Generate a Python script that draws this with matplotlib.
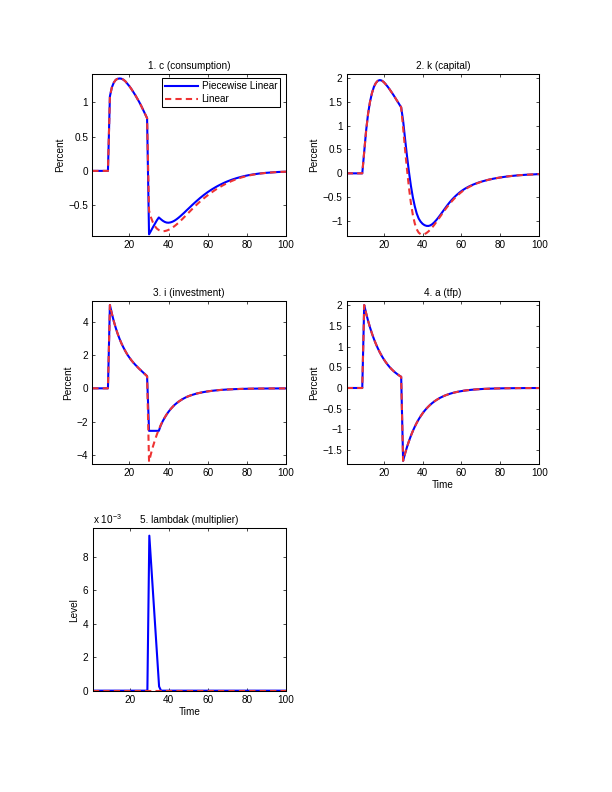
import matplotlib
matplotlib.use('Agg')
import matplotlib.pyplot as plt
from matplotlib.ticker import FuncFormatter

plt.rcParams['font.family'] = ['Liberation Sans', 'DejaVu Sans']
plt.rcParams['mathtext.fontset'] = 'custom'
plt.rcParams['mathtext.rm'] = 'Liberation Sans'
plt.rcParams['mathtext.it'] = 'Liberation Sans:italic'
plt.rcParams['axes.unicode_minus'] = True

# ---------------- data ----------------
periods = list(range(1, 101))

c_piecewise = [0.0] * 9 + [
    1.09, 1.22, 1.29, 1.33, 1.345, 1.35, 1.345, 1.33, 1.305, 1.27,
    1.235, 1.195, 1.15, 1.105, 1.055, 1.005, 0.95, 0.89, 0.83, 0.77,
    -0.927, -0.875, -0.822, -0.772, -0.722, -0.68, -0.705, -0.728, -0.745, -0.755,
    -0.757, -0.752, -0.742, -0.727, -0.708, -0.686, -0.662, -0.636, -0.61, -0.582,
    -0.555, -0.528, -0.50, -0.474, -0.448, -0.423, -0.398, -0.375, -0.352, -0.331,
    -0.31, -0.291, -0.272, -0.255, -0.238, -0.222, -0.207, -0.193, -0.179, -0.166,
    -0.154, -0.143, -0.132, -0.122, -0.113, -0.104, -0.096, -0.088, -0.081, -0.074,
    -0.068, -0.062, -0.057, -0.052, -0.048, -0.044, -0.04, -0.037, -0.034, -0.031,
    -0.028, -0.026, -0.024, -0.022, -0.02, -0.018, -0.016, -0.015, -0.014, -0.013,
    -0.012]
c_linear = [0.0] * 9 + [
    1.09, 1.22, 1.29, 1.33, 1.345, 1.35, 1.345, 1.33, 1.305, 1.27,
    1.235, 1.195, 1.15, 1.105, 1.055, 1.005, 0.95, 0.89, 0.83, 0.77,
    -0.58, -0.68, -0.755, -0.808, -0.843, -0.864, -0.876, -0.881, -0.879, -0.872,
    -0.861, -0.846, -0.828, -0.807, -0.784, -0.759, -0.732, -0.704, -0.675, -0.646,
    -0.617, -0.588, -0.559, -0.531, -0.503, -0.476, -0.45, -0.425, -0.401, -0.378,
    -0.356, -0.335, -0.314, -0.294, -0.275, -0.257, -0.24, -0.223, -0.207, -0.192,
    -0.178, -0.164, -0.151, -0.139, -0.128, -0.117, -0.107, -0.098, -0.09, -0.082,
    -0.075, -0.068, -0.062, -0.056, -0.051, -0.046, -0.042, -0.038, -0.035, -0.032,
    -0.029, -0.026, -0.024, -0.022, -0.02, -0.018, -0.016, -0.015, -0.014, -0.013,
    -0.012]

k_piecewise = [0.0] * 9 + [
    0.45, 0.9, 1.25, 1.5, 1.68, 1.81, 1.89, 1.935, 1.95, 1.94,
    1.91, 1.865, 1.815, 1.76, 1.70, 1.64, 1.575, 1.51, 1.445, 1.38,
    1.1, 0.72, 0.36, 0.03, -0.26, -0.5, -0.69, -0.84, -0.945, -1.01,
    -1.055, -1.083, -1.098, -1.10, -1.088, -1.062, -1.025, -0.98, -0.93, -0.876,
    -0.82, -0.763, -0.707, -0.653, -0.602, -0.555, -0.512, -0.472, -0.435, -0.401,
    -0.37, -0.342, -0.316, -0.293, -0.272, -0.253, -0.235, -0.219, -0.204, -0.19,
    -0.177, -0.165, -0.154, -0.143, -0.133, -0.124, -0.115, -0.107, -0.1, -0.093,
    -0.086, -0.08, -0.074, -0.068, -0.063, -0.058, -0.054, -0.05, -0.046, -0.042,
    -0.039, -0.036, -0.033, -0.03, -0.028, -0.026, -0.024, -0.022, -0.02, -0.018,
    -0.016]
k_linear = [0.0] * 9 + [
    0.45, 0.9, 1.25, 1.5, 1.68, 1.81, 1.89, 1.935, 1.95, 1.94,
    1.91, 1.865, 1.815, 1.76, 1.70, 1.64, 1.575, 1.51, 1.445, 1.38,
    0.95, 0.5, 0.08, -0.3, -0.62, -0.87, -1.05, -1.17, -1.24, -1.272,
    -1.28, -1.27, -1.248, -1.215, -1.175, -1.128, -1.077, -1.022, -0.965, -0.907,
    -0.849, -0.792, -0.737, -0.684, -0.634, -0.586, -0.541, -0.499, -0.46, -0.424,
    -0.39, -0.36, -0.332, -0.306, -0.283, -0.262, -0.242, -0.224, -0.208, -0.193,
    -0.179, -0.166, -0.154, -0.143, -0.133, -0.124, -0.115, -0.107, -0.1, -0.093,
    -0.086, -0.08, -0.074, -0.068, -0.063, -0.058, -0.054, -0.05, -0.046, -0.042,
    -0.039, -0.036, -0.033, -0.03, -0.028, -0.026, -0.024, -0.022, -0.02, -0.018,
    -0.016]

i_piecewise = [0.0] * 9 + [
    5.00, 4.48, 4.02, 3.62, 3.26, 2.95, 2.67, 2.43, 2.21, 2.01,
    1.84, 1.68, 1.54, 1.41, 1.29, 1.17, 1.06, 0.95, 0.84, 0.73,
    -2.55, -2.55, -2.55, -2.55, -2.55, -2.55, -2.22, -1.97, -1.76, -1.57,
    -1.40, -1.25, -1.12, -1.00, -0.90, -0.81, -0.73, -0.655, -0.59, -0.53,
    -0.48, -0.435, -0.395, -0.36, -0.325, -0.295, -0.27, -0.245, -0.222, -0.202,
    -0.184, -0.167, -0.152, -0.138, -0.125, -0.114, -0.103, -0.094, -0.085, -0.077,
    -0.07, -0.064, -0.058, -0.052, -0.047, -0.043, -0.039, -0.035, -0.032, -0.029,
    -0.026, -0.024, -0.021, -0.019, -0.017, -0.016, -0.014, -0.013, -0.012, -0.011,
    -0.01, -0.009, -0.008, -0.007, -0.006, -0.006, -0.005, -0.005, -0.004, -0.004,
    -0.004]
i_linear = [0.0] * 9 + [
    5.00, 4.48, 4.02, 3.62, 3.26, 2.95, 2.67, 2.43, 2.21, 2.01,
    1.84, 1.68, 1.54, 1.41, 1.29, 1.17, 1.06, 0.95, 0.84, 0.73,
    -4.40, -3.92, -3.49, -3.11, -2.77, -2.47, -2.20, -1.96, -1.75, -1.56,
    -1.40, -1.25, -1.12, -1.00, -0.90, -0.81, -0.73, -0.655, -0.59, -0.53,
    -0.48, -0.435, -0.395, -0.36, -0.325, -0.295, -0.27, -0.245, -0.222, -0.202,
    -0.184, -0.167, -0.152, -0.138, -0.125, -0.114, -0.103, -0.094, -0.085, -0.077,
    -0.07, -0.064, -0.058, -0.052, -0.047, -0.043, -0.039, -0.035, -0.032, -0.029,
    -0.026, -0.024, -0.021, -0.019, -0.017, -0.016, -0.014, -0.013, -0.012, -0.011,
    -0.01, -0.009, -0.008, -0.007, -0.006, -0.006, -0.005, -0.005, -0.004, -0.004,
    -0.004]

a_values = [0.0] * 9 + [
    2.000, 1.800, 1.620, 1.458, 1.312, 1.181, 1.063, 0.957, 0.861, 0.775,
    0.697, 0.628, 0.565, 0.508, 0.458, 0.412, 0.371, 0.334, 0.300, 0.270,
    -1.757, -1.581, -1.423, -1.281, -1.153, -1.037, -0.934, -0.840, -0.756, -0.681,
    -0.613, -0.551, -0.496, -0.447, -0.402, -0.362, -0.326, -0.293, -0.264, -0.237,
    -0.214, -0.192, -0.173, -0.156, -0.140, -0.126, -0.114, -0.102, -0.092, -0.083,
    -0.075, -0.067, -0.060, -0.054, -0.049, -0.044, -0.040, -0.036, -0.032, -0.029,
    -0.026, -0.023, -0.021, -0.019, -0.017, -0.015, -0.014, -0.012, -0.011, -0.010,
    -0.009, -0.008, -0.007, -0.006, -0.006, -0.005, -0.005, -0.004, -0.004, -0.003,
    -0.003, -0.003, -0.002, -0.002, -0.002, -0.002, -0.001, -0.001, -0.001, -0.001,
    -0.001]
a_piecewise = a_values
a_linear = a_values

lam_piecewise = [0.0] * 29 + [9.25e-3, 7.45e-3, 5.65e-3, 3.85e-3, 2.05e-3, 0.25e-3] + [0.0] * 65
lam_linear = [0.0] * 100

titles = ['1. c (consumption)', '2. k (capital)', '3. i (investment)',
          '4. a (tfp)', '5. lambdak (multiplier)']
series_names = ['Piecewise Linear', 'Linear']
x_ticks = [20, 40, 60, 80, 100]

# ---------------- figure ----------------
W, H = 612, 792
fig = plt.figure(figsize=(W / 100, H / 100), dpi=100)


def add_axes(l, t, r, b):
    return fig.add_axes([l / W, 1 - b / H, (r - l) / W, (b - t) / H])


FS = 7.2
BLUE = '#0000ff'
RED = '#ee3333'


def fmt(v, pos):
    s = '%g' % round(v, 6)
    return s.replace('-', '\u2212')


def fmt_e3(v, pos):
    s = '%g' % round(v * 1e3, 6)
    return s.replace('-', '\u2212')


panels = [
    (add_axes(92.3, 74, 286, 236), c_piecewise, c_linear, (-0.951, 1.415), [-0.5, 0, 0.5, 1], 'Percent', None),
    (add_axes(346.7, 74, 539.3, 236), k_piecewise, k_linear, (-1.31, 2.077), [-1, -0.5, 0, 0.5, 1, 1.5, 2], 'Percent', None),
    (add_axes(92.3, 301, 286, 464), i_piecewise, i_linear, (-4.54, 5.24), [-4, -2, 0, 2, 4], 'Percent', None),
    (add_axes(346.7, 301, 539.3, 464), a_piecewise, a_linear, (-1.833, 2.098), [-1.5, -1, -0.5, 0, 0.5, 1, 1.5, 2], 'Percent', 'Time'),
    (add_axes(92.7, 528.3, 286, 691), lam_piecewise, lam_linear, (-0.02e-3, 9.69e-3), [0, 2e-3, 4e-3, 6e-3, 8e-3], 'Level', 'Time'),
]

for idx, (ax, pw, lin, ylim, yt, ylab, xlab) in enumerate(panels):
    l1, = ax.plot(periods, pw, color=BLUE, lw=1.5, label=series_names[0])
    l2, = ax.plot(periods, lin, color=RED, lw=1.5, ls=(0, (3, 2)), label=series_names[1])
    ax.set_xlim(1, 100)
    ax.set_ylim(*ylim)
    ax.set_xticks(x_ticks)
    ax.set_yticks(yt)
    ax.xaxis.set_major_formatter(FuncFormatter(fmt))
    if idx == 4:
        ax.yaxis.set_major_formatter(FuncFormatter(fmt_e3))
        ax.annotate(r'x 10$^{-3}$', xy=(0, 1), xycoords='axes fraction',
                    xytext=(0.5, 3), textcoords='offset points',
                    fontsize=FS, va='baseline', ha='left')
    else:
        ax.yaxis.set_major_formatter(FuncFormatter(fmt))
    ax.tick_params(direction='in', length=2.5, width=0.5, top=True, right=True,
                   labelsize=FS, pad=3, colors='black')
    for sp in ax.spines.values():
        sp.set_linewidth(0.75)
        sp.set_color('black')
    ax.set_title(titles[idx], fontsize=FS, pad=3.5)
    ax.set_ylabel(ylab, fontsize=FS, labelpad=2.5)
    if xlab:
        ax.set_xlabel(xlab, fontsize=FS, labelpad=1)
    if idx == 0:
        leg = ax.legend(handles=[l1, l2], loc='upper right',
                        bbox_to_anchor=(1 - 6 / 193.7, 1 - 4.3 / 162),
                        borderaxespad=0, fontsize=FS, fancybox=False,
                        edgecolor='black', framealpha=1, borderpad=0.3,
                        handlelength=3.3, handletextpad=0.35, labelspacing=0.3)
        leg.get_frame().set_linewidth(0.75)

fig.savefig('out.png', dpi=100)
